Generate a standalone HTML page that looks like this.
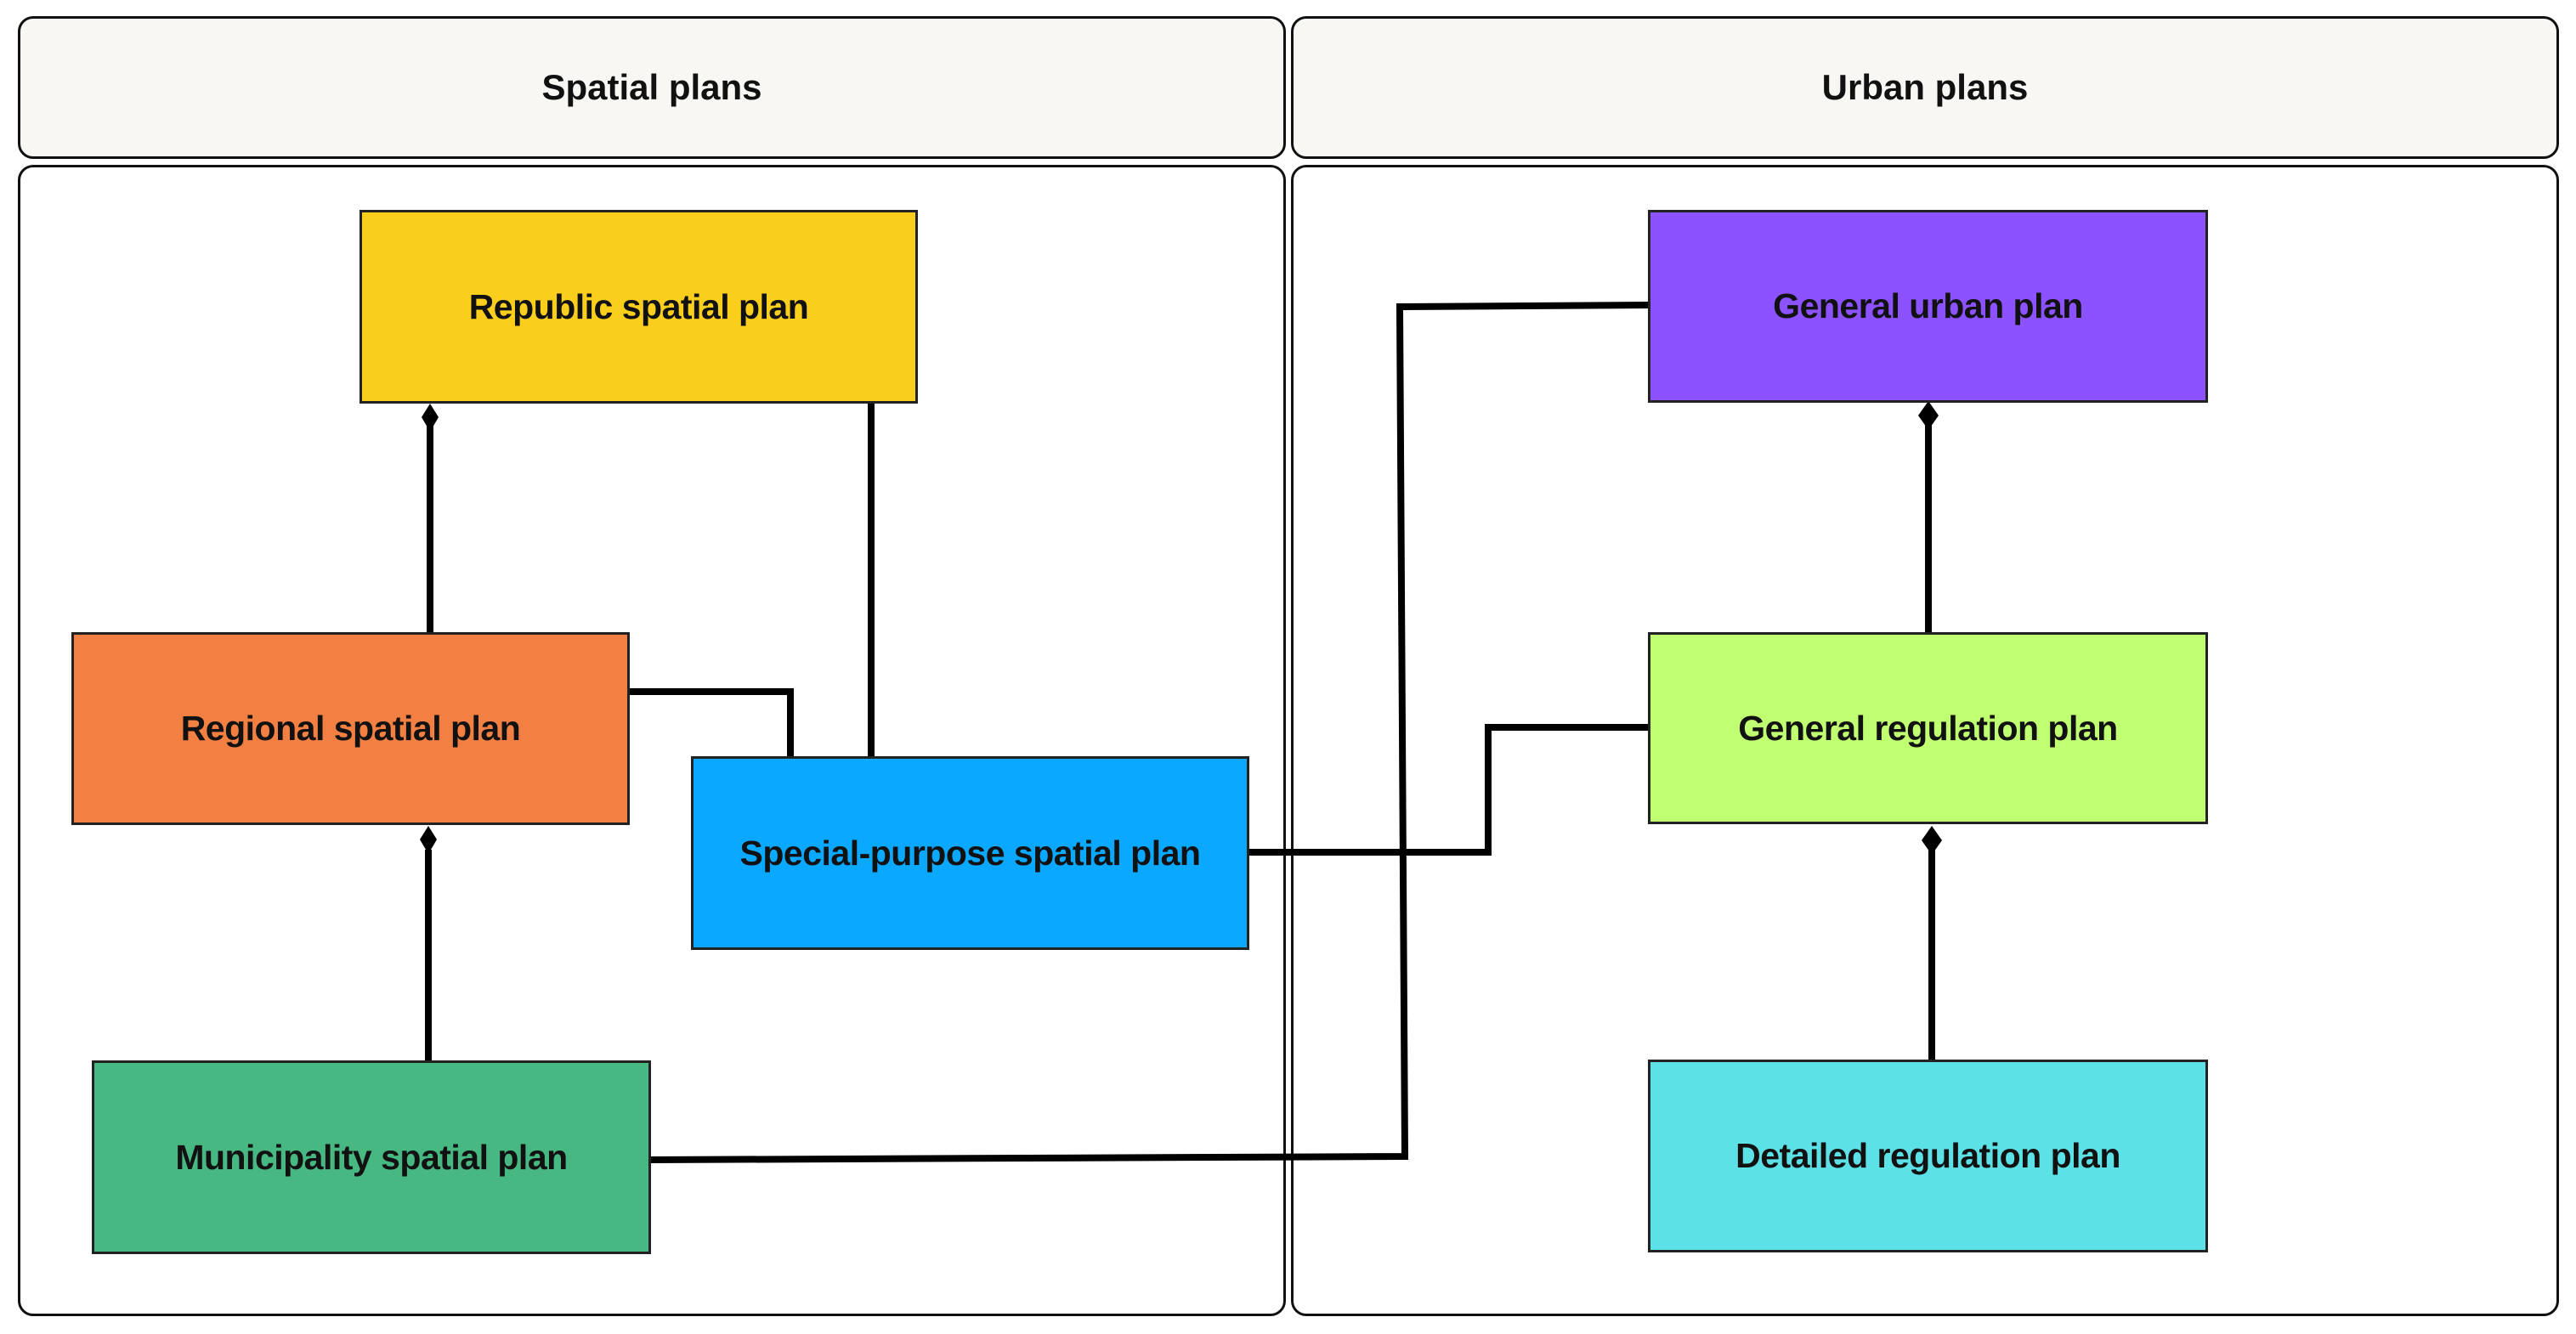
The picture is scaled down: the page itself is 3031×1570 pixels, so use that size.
<!DOCTYPE html>
<html><head><meta charset="utf-8"><style>
html,body{margin:0;padding:0;background:#fff;}
body{width:3031px;height:1570px;position:relative;overflow:hidden;font-family:"Liberation Sans",Arial,sans-serif;}
.hdr{position:absolute;top:19px;height:168px;background:#F8F7F3;border:3px solid #111;border-radius:18px;box-sizing:border-box;display:flex;align-items:center;justify-content:center;font-weight:bold;font-size:42px;color:#111;}
.bd{position:absolute;top:194px;height:1355px;border:3px solid #111;border-radius:18px;box-sizing:border-box;}
.n{position:absolute;border:3px solid #222;box-sizing:border-box;display:flex;align-items:center;justify-content:center;font-weight:bold;font-size:41px;color:#111;letter-spacing:-0.5px;white-space:nowrap;}
svg{position:absolute;left:0;top:0;}
</style></head><body>
<div class="hdr" style="left:21px;width:1492px;">Spatial plans</div>
<div class="hdr" style="left:1519px;width:1492px;">Urban plans</div>
<div class="bd" style="left:21px;width:1492px;"></div>
<div class="bd" style="left:1519px;width:1492px;"></div>

<svg width="3031" height="1570" viewBox="0 0 3031 1570">
<g stroke="#000" stroke-width="8" fill="none">
<line x1="506" y1="500" x2="506" y2="746"/>
<line x1="1025" y1="474" x2="1025" y2="892"/>
<polyline points="740,814 930,814 930,892"/>
<line x1="504" y1="1000" x2="504" y2="1249"/>
<polyline points="765,1365 1653,1361 1647,361 1940,359"/>
<polyline points="1469,1003 1751,1003 1751,856 1940,856"/>
<line x1="2269" y1="500" x2="2269" y2="746"/>
<line x1="2273" y1="1000" x2="2273" y2="1249"/>
</g>
<g fill="#000">
<polygon points="506,475 516,491 506,508 496,491"/>
<polygon points="504,972 514,988 504,1005 494,988"/>
<polygon points="2269,472 2281,489 2269,506 2257,489"/>
<polygon points="2273,972 2285,989 2273,1006 2261,989"/>
</g>
</svg>

<div class="n" style="left:423px;top:247px;width:657px;height:228px;background:#F9CE1D;">Republic spatial plan</div>
<div class="n" style="left:84px;top:744px;width:657px;height:227px;background:#F38043;">Regional spatial plan</div>
<div class="n" style="left:813px;top:890px;width:657px;height:228px;background:#0AA8FF;">Special-purpose spatial plan</div>
<div class="n" style="left:108px;top:1248px;width:658px;height:228px;background:#48B883;">Municipality spatial plan</div>
<div class="n" style="left:1939px;top:247px;width:659px;height:227px;background:#8C52FF;">General urban plan</div>
<div class="n" style="left:1939px;top:744px;width:659px;height:226px;background:#C1FF72;">General regulation plan</div>
<div class="n" style="left:1939px;top:1247px;width:659px;height:227px;background:#5CE1E6;">Detailed regulation plan</div>
</body></html>
